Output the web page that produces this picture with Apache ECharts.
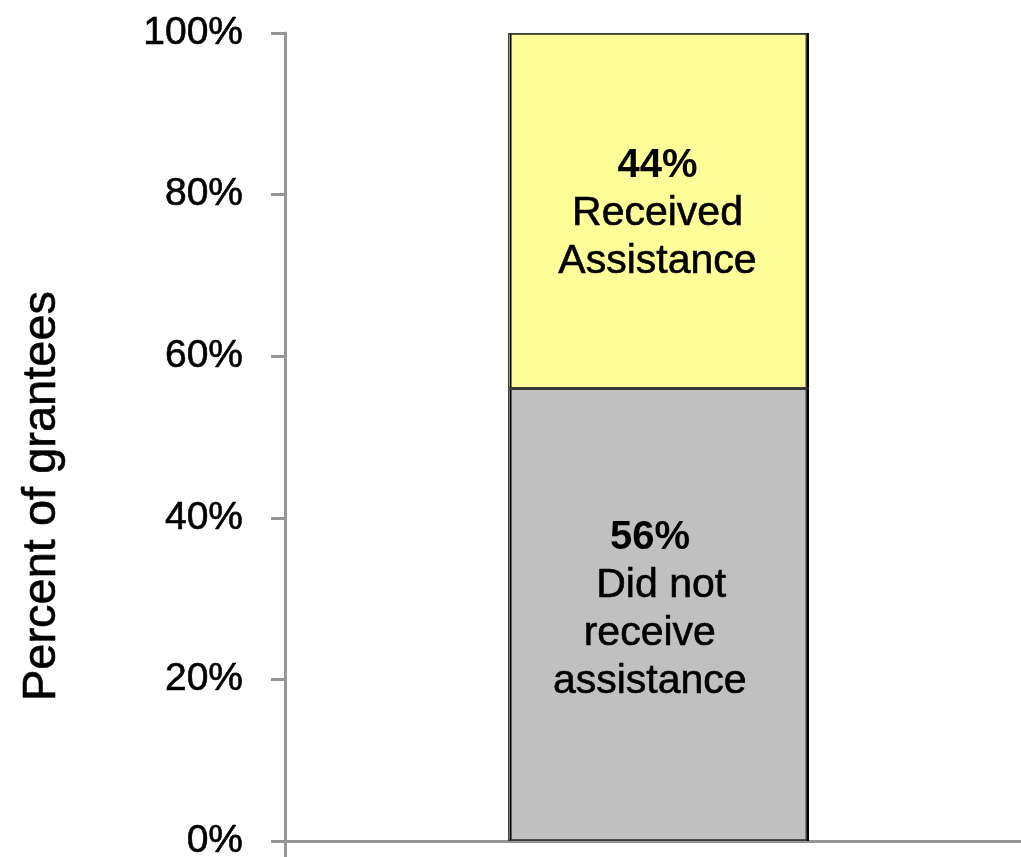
<!DOCTYPE html>
<html>
<head>
<meta charset="utf-8">
<script src="https://cdn.jsdelivr.net/npm/echarts@6/dist/echarts.min.js"></script>
<style>
html,body{margin:0;padding:0;background:#fff;}
#chart{width:1021px;height:857px;}
</style>
</head>
<body>
<div id="chart"></div>
<script>
const categories = [''];
const notReceived = [56];
const received = [44];
const yTicks = [0, 20, 40, 60, 80, 100];
const yTitle = 'Percent of grantees';
const receivedLabel = ['44%', 'Received', 'Assistance'];
const notReceivedLabel = ['56% ', ' Did not', 'receive ', 'assistance '];

const FONT = '"Liberation Sans", Arial, sans-serif';
const chart = echarts.init(document.getElementById('chart'));

const barStyle = (color) => ({
  color: color,
  borderColor: '#3a3a3a',
  borderWidth: 1.5,
  shadowColor: '#000',
  shadowBlur: 0,
  shadowOffsetX: 2,
  shadowOffsetY: 0
});

const richLabel = (lines, offset) => ({
  show: true,
  position: 'inside',
  offset: offset,
  color: '#000',
  fontFamily: FONT,
  fontSize: 41,
  lineHeight: 48,
  formatter: () => '{b|' + lines[0] + '}\n' + lines.slice(1).map(l => '{n|' + l + '}').join('\n'),
  rich: {
    b: { fontFamily: FONT, fontSize: 40, fontWeight: 'bold', lineHeight: 48, color: '#000' },
    n: { fontFamily: FONT, fontSize: 41, lineHeight: 48, color: '#000', textBorderColor: '#000', textBorderWidth: 0.6 }
  }
});

chart.setOption({
  animation: false,
  backgroundColor: '#fff',
  grid: { left: 285, top: 33, height: 808, width: 745, containLabel: false, outerBoundsMode: 'none' },
  xAxis: {
    type: 'category',
    data: categories,
    boundaryGap: true,
    axisLine: { show: true, lineStyle: { color: '#959595', width: 3 } },
    axisTick: { show: true, length: 18, lineStyle: { color: '#959595', width: 3 } },
    axisLabel: { show: false },
    splitLine: { show: false }
  },
  yAxis: {
    type: 'value',
    min: yTicks[0],
    max: yTicks[yTicks.length - 1],
    interval: 20,
    axisLine: { show: true, lineStyle: { color: '#959595', width: 3 } },
    axisTick: { show: true, length: 14, inside: false, lineStyle: { color: '#959595', width: 3 } },
    axisLabel: {
      formatter: '{value}%',
      margin: 42,
      color: '#000',
      fontFamily: FONT,
      fontSize: 39,
      textBorderColor: '#000',
      textBorderWidth: 0.6
    },
    splitLine: { show: false }
  },
  graphic: [{
    type: 'text',
    x: 42,
    y: 496,
    rotation: Math.PI / 2,
    style: {
      text: yTitle,
      fontFamily: FONT,
      fontSize: 47,
      fill: '#000',
      stroke: '#000',
      lineWidth: 0.6,
      textAlign: 'center',
      textVerticalAlign: 'middle'
    }
  }],
  series: [
    {
      name: 'Did not receive assistance',
      type: 'bar',
      stack: 'total',
      data: notReceived,
      barWidth: 299,
      itemStyle: barStyle('#c0c0c0'),
      label: richLabel(notReceivedLabel, [-2, -5])
    },
    {
      name: 'Received Assistance',
      type: 'bar',
      stack: 'total',
      data: received,
      barWidth: 299,
      itemStyle: barStyle('#ffff99'),
      label: richLabel(receivedLabel, [0, 3])
    }
  ]
});
</script>
</body>
</html>
